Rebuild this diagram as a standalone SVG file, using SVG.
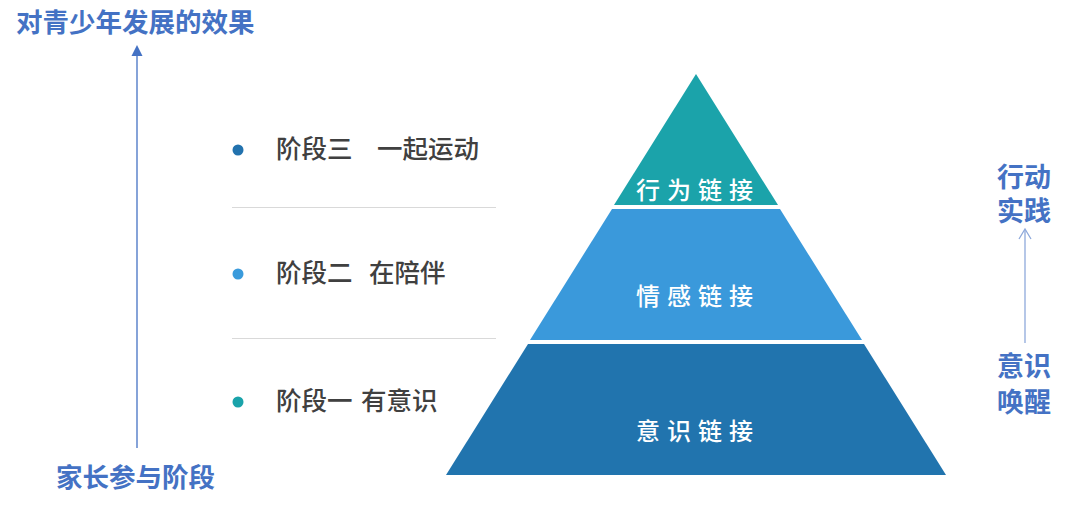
<svg xmlns="http://www.w3.org/2000/svg" width="1080" height="510" viewBox="0 0 1080 510">
<defs>
<style>
.blue{font-family:"Noto Sans CJK SC","Noto Sans",sans-serif;fill:#4472C4;font-weight:600}
.stage{font-family:"Noto Sans CJK SC","Noto Sans",sans-serif;fill:#404040;font-size:25.5px;font-weight:500}
.pyr{font-family:"Noto Sans CJK SC","Noto Sans",sans-serif;fill:#FFFFFF;font-size:24px;font-weight:500;letter-spacing:7px;text-anchor:middle}
.sep{stroke:#D9D9D9;stroke-width:1}
.axis{stroke:#4472C4;stroke-width:1.3;fill:none}
</style>
</defs>
<rect width="1080" height="510" fill="#FFFFFF"/>

<g id="connectors">
<line class="axis" x1="137" y1="448" x2="137" y2="56"/>
<path d="M131.5,56 L137,45 L142.5,56 Z" fill="#4472C4"/>
<line x1="1025" y1="343" x2="1025" y2="230" stroke="#8EA9DB" stroke-width="1.3"/>
<path d="M1019,239 L1025,229 L1031,239" fill="none" stroke="#8EA9DB" stroke-width="1.3"/>
</g>

<g id="title">
<text class="blue" x="16" y="32" font-size="26.5">对青少年发展的效果</text>
</g>
<g id="x-label">
<text class="blue" x="56" y="487" font-size="26.5">家长参与阶段</text>
</g>

<g id="separators">
<line class="sep" x1="232" y1="207.5" x2="496" y2="207.5"/>
<line class="sep" x1="232" y1="338.5" x2="496" y2="338.5"/>
</g>

<g id="stage3">
<circle cx="238" cy="150" r="5.5" fill="#2272AE"/>
<text class="stage" y="158"><tspan x="276">阶段三</tspan><tspan x="377">一起运动</tspan></text>
</g>
<g id="stage2">
<circle cx="238" cy="274" r="5.5" fill="#3A9BDC"/>
<text class="stage" y="282"><tspan x="276">阶段二</tspan><tspan x="369">在陪伴</tspan></text>
</g>
<g id="stage1">
<circle cx="238" cy="402" r="5.5" fill="#1AA3AA"/>
<text class="stage" y="410"><tspan x="276">阶段一</tspan><tspan x="361">有意识</tspan></text>
</g>

<g id="level-top">
<polygon points="696,74 778,205 614,205" fill="#1BA3AA"/>
<text class="pyr" x="698" y="199">行为链接</text>
</g>
<g id="level-mid">
<polygon points="612,209 780,209 862,340 530,340" fill="#3A99DB"/>
<text class="pyr" x="698" y="305">情感链接</text>
</g>
<g id="level-bottom">
<polygon points="528,344 864,344 946,475 446,475" fill="#2174AE"/>
<text class="pyr" x="698" y="440">意识链接</text>
</g>

<g id="right-top">
<text class="blue" font-size="27"><tspan x="997" y="187">行动</tspan><tspan x="997" y="221">实践</tspan></text>
</g>
<g id="right-bottom">
<text class="blue" font-size="27"><tspan x="997" y="376">意识</tspan><tspan x="997" y="412">唤醒</tspan></text>
</g>
</svg>
